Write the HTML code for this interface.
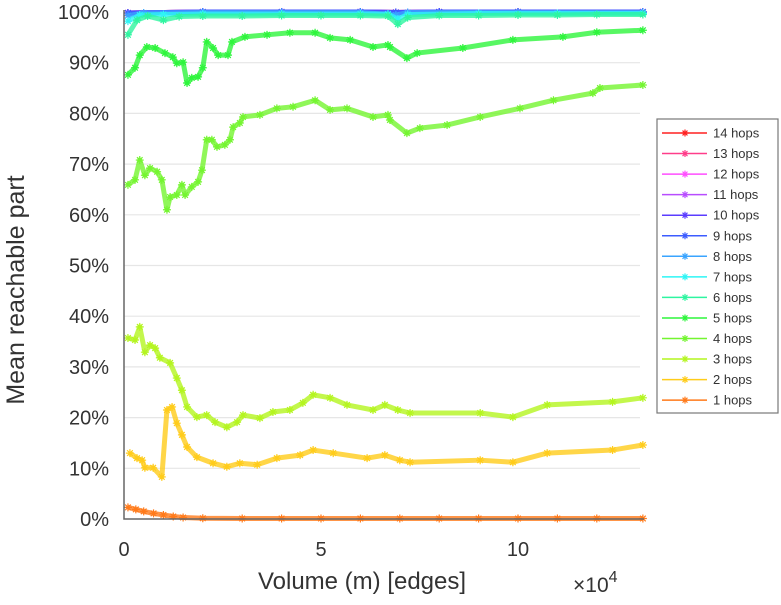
<!DOCTYPE html>
<html><head><meta charset="utf-8"><style>
body{margin:0;background:#fff;}
svg text{font-family:"Liberation Sans",sans-serif;fill:#333;}
</style></head><body>
<svg id="chart" width="781" height="600" xmlns="http://www.w3.org/2000/svg">
<g id="grid"></g>
<g id="series"></g>
<g id="axes"></g>
<text transform="translate(24,290) rotate(-90)" text-anchor="middle" font-size="25">Mean reachable part</text>
<text x="362" y="589" text-anchor="middle" font-size="24">Volume (m) [edges]</text>
<text x="573" y="592" font-size="21">×10<tspan dy="-10" font-size="16">4</tspan></text>
<g id="legend"></g>
</svg>
<script>
const yTicks=[0,10,20,30,40,50,60,70,80,90,100];
const xTicks=[0,5,10];
const labels=["1 hops","2 hops","3 hops","4 hops","5 hops","6 hops","7 hops","8 hops","9 hops","10 hops","11 hops","12 hops","13 hops","14 hops"];
const colors=["#ff7a1a","#ffcc1a","#b4f51f","#74f530","#2ef53c","#2ef5a0","#2ef5f5","#3aa4ff","#3c5cff","#5b3cff","#b84dff","#ff4dff","#ff3d8a","#ff2020"];
const x1=[0.1,0.3,0.5,0.75,1.0,1.25,1.5,2,3,4,5,6,7,8,9,10,11,12,13.17];
const y1=[2.3,1.9,1.5,1.1,0.8,0.5,0.3,0.15,0.1,0.1,0.1,0.1,0.1,0.1,0.1,0.1,0.1,0.1,0.1];
const x2=[0.15,0.33,0.46,0.53,0.74,0.96,1.09,1.22,1.34,1.47,1.6,1.85,2.26,2.61,2.94,3.38,3.88,4.47,4.8,5.31,6.17,6.62,7,7.26,9.04,9.87,10.74,12.4,13.17];
const y2=[13,12,11.6,10.1,10.1,8.3,21.5,22.1,18.9,16.6,14.2,12.2,11,10.3,11,10.7,12,12.6,13.6,13,12,12.6,11.6,11.2,11.6,11.2,13,13.6,14.6];
const x3=[0.1,0.28,0.4,0.53,0.66,0.79,0.91,1.17,1.34,1.47,1.6,1.85,2.1,2.31,2.61,2.87,3.02,3.45,3.78,4.21,4.54,4.8,5.23,5.66,6.32,6.62,6.95,7.26,9.04,9.87,10.74,12.4,13.17];
const y3=[35.7,35.3,37.9,32.9,34.3,33.7,31.8,30.8,27.8,25.4,22.1,20.1,20.5,19.1,18.1,19.1,20.5,19.9,21.1,21.5,22.9,24.5,23.9,22.5,21.5,22.5,21.5,20.9,20.9,20.1,22.5,23.1,23.9];
const x4=[0.1,0.28,0.4,0.53,0.66,0.84,0.96,1.09,1.17,1.34,1.47,1.55,1.72,1.88,1.98,2.1,2.23,2.36,2.56,2.69,2.77,2.94,3.02,3.45,3.88,4.29,4.85,5.23,5.66,6.32,6.7,6.75,7.18,7.51,8.2,9.04,10.05,10.9,11.9,12.08,13.17];
const y4=[65.9,66.9,70.8,67.8,69.2,68.5,66.9,61,63.5,63.9,65.9,63.9,65.5,66.5,68.8,74.8,74.8,73.4,73.8,74.8,77.3,78.1,79.3,79.7,81,81.3,82.6,80.7,81,79.3,79.7,78.7,76.1,77.1,77.7,79.3,81,82.6,84,85,85.6];
const x5=[0.1,0.28,0.4,0.58,0.79,1.04,1.24,1.34,1.5,1.6,1.72,1.88,2.0,2.1,2.26,2.39,2.64,2.74,3.07,3.63,4.21,4.85,5.23,5.74,6.32,6.7,6.75,7.18,7.44,8.6,9.87,11.14,12.0,13.17];
const y5=[87.6,89,91.5,93.1,92.9,91.9,91.1,89.9,90.1,86,87,87.2,89,94.1,92.9,91.5,91.5,94.1,95.1,95.5,95.9,95.9,94.9,94.5,93.1,93.5,93.1,90.9,91.9,92.9,94.5,95.1,96,96.4];
const x6=[0.1,0.33,0.6,1.0,1.4,2,3,4,5,6,6.7,6.95,7.2,8,9,10,11,12,13.17];
const y6=[95.5,98.4,99.2,98.4,99.1,99.2,99.2,99.3,99.3,99.3,99.2,97.6,98.9,99.3,99.3,99.4,99.4,99.5,99.5];
const x7=[0.1,0.4,1,2,4,6,6.7,6.95,7.2,9,11,13.17];
const y7=[98.2,99.4,99.5,99.6,99.6,99.6,99.6,98.6,99.5,99.7,99.7,99.7];
const x8=[0.1,0.5,2,4,6,6.9,7.2,10,13.17];
const y8=[99.3,99.8,99.9,99.9,99.9,99.4,99.9,99.9,99.9];
const xFlat=[0.1,2,4,6,6.9,8,10,13.17];
const yFlat=[99.8,100,100,100,99.9,100,100,100];
const seriesX=[x1,x2,x3,x4,x5,x6,x7,x8,xFlat,xFlat,xFlat,xFlat,xFlat,xFlat];
const seriesY=[y1,y2,y3,y4,y5,y6,y7,y8,yFlat,yFlat,yFlat,yFlat,yFlat,yFlat];

const NS="http://www.w3.org/2000/svg";
const X0=124,XPER=39.4,Y0=519,YPER=5.07,XR=644;
const sx=v=>X0+v*XPER, sy=v=>Y0-v*YPER;
function mk(tag,attrs,parent){const e=document.createElementNS(NS,tag);for(const k in attrs)e.setAttribute(k,attrs[k]);parent.appendChild(e);return e;}
const grid=document.getElementById('grid'),axes=document.getElementById('axes'),ser=document.getElementById('series'),leg=document.getElementById('legend');
yTicks.forEach(t=>{
  if(t>0){const g=mk('line',{x1:X0,x2:640,y1:sy(t),y2:sy(t),stroke:'#e6e6e6','stroke-width':1.2},grid);
  
  }
  const tx=mk('text',{x:109,y:sy(t)+7,'text-anchor':'end','font-size':20},axes);tx.textContent=t+'%';
  
  
});
xTicks.forEach(t=>{
  const tx=mk('text',{x:sx(t),y:556,'text-anchor':'middle','font-size':20},axes);tx.textContent=t;
  
  
});
const ax=mk('path',{d:`M${X0},${sy(100)-2} V${Y0} H${XR}`,fill:'none',stroke:'#666','stroke-width':1.5},axes);


function star(px,py,r,col,parent){
  let d='';for(let i=0;i<4;i++){const a=i*Math.PI/4;d+=`M${px-r*Math.cos(a)},${py-r*Math.sin(a)}L${px+r*Math.cos(a)},${py+r*Math.sin(a)}`;}
  return mk('path',{d:d,stroke:col,'stroke-width':1.2,fill:'none'},parent);
}
for(let s=seriesX.length-1;s>=0;s--){
  const g=mk('g',{},ser);
  
  
  const xs=seriesX[s],ys=seriesY[s];
  const pts=xs.map((x,i)=>sx(x)+','+sy(ys[i])).join(' ');
  const pl=mk('polyline',{points:pts,fill:'none',stroke:colors[s],'stroke-width':5,'stroke-linejoin':'round','stroke-opacity':0.8},g);
  
  
  xs.forEach((x,i)=>{const m=star(sx(x),sy(ys[i]),4,colors[s],g);
    
    });
}
const box=mk('rect',{x:657,y:119,width:121,height:294,fill:'#fff',stroke:'#777','stroke-width':1.2},leg);


for(let i=0;i<14;i++){
  const s=13-i,yy=133+i*20.55;
  const g=mk('g',{},leg);
  
  
  mk('line',{x1:662,x2:707,y1:yy,y2:yy,stroke:colors[s],'stroke-width':1.5},g);
  star(685,yy,3.5,colors[s],g);
  const t=mk('text',{x:713,y:yy+4.5,'font-size':13},g);t.textContent=labels[s];
}
</script>
</body></html>
